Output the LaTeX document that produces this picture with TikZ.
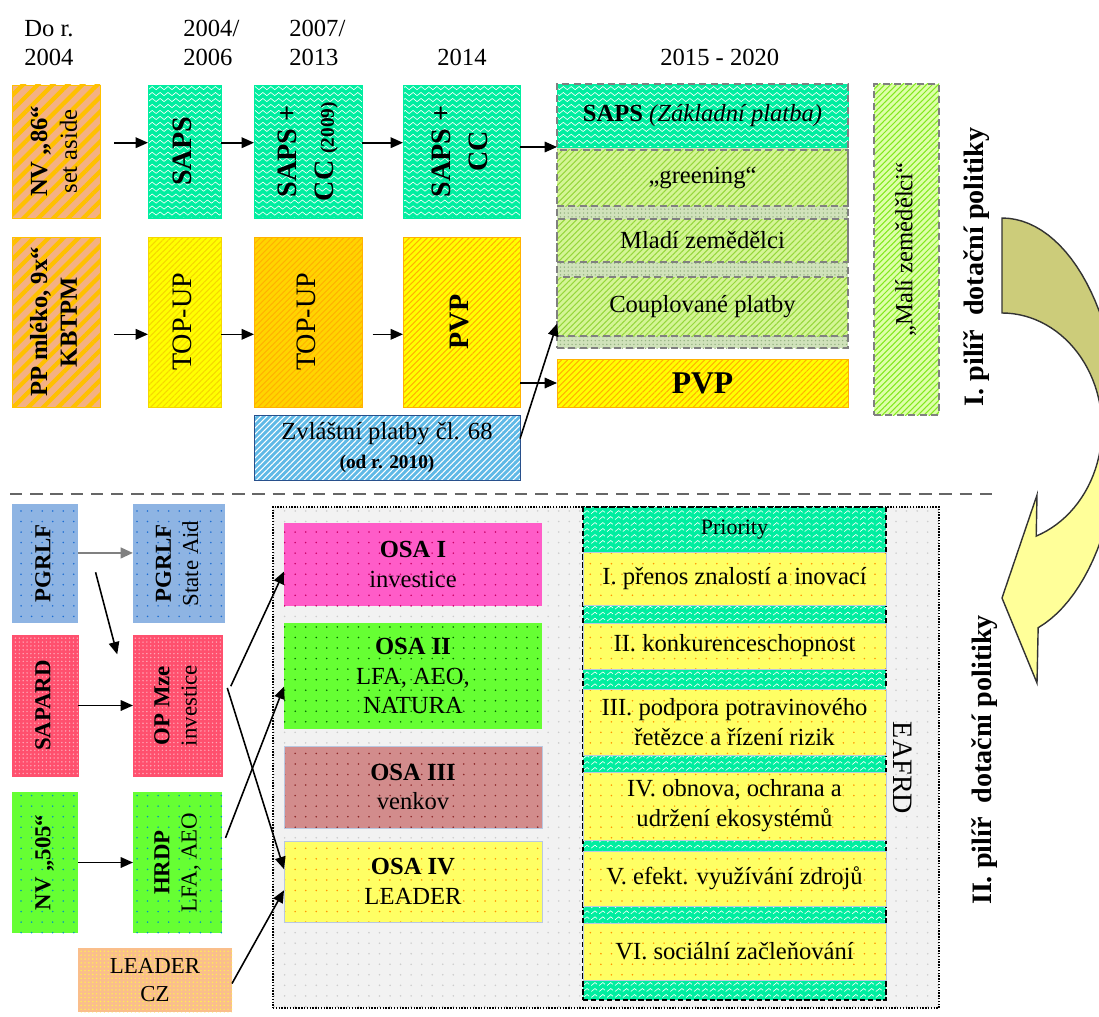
\documentclass[tikz,border=0pt]{standalone}
\usepackage{fontspec}
\setmainfont{Liberation Serif}
\usepackage{graphicx}
\usepackage{xcolor}
\usepackage{tikz}
\usetikzlibrary{arrows.meta,patterns.meta}

\definecolor{peach}{RGB}{244,177,131}
\definecolor{amber}{RGB}{255,192,0}
\definecolor{mint}{RGB}{0,238,160}
\definecolor{lemon}{RGB}{255,255,0}
\definecolor{lemonline}{RGB}{245,215,0}
\definecolor{goldbg}{RGB}{255,212,0}
\definecolor{goldline}{RGB}{255,178,0}
\definecolor{lime}{RGB}{212,245,150}
\definecolor{limeline}{RGB}{150,215,60}
\definecolor{limebright}{RGB}{222,255,170}
\definecolor{limebrightline}{RGB}{130,232,30}
\definecolor{sage}{RGB}{208,226,186}
\definecolor{sageline}{RGB}{150,180,130}
\definecolor{sky}{RGB}{95,185,230}
\definecolor{navyline}{RGB}{40,80,140}
\definecolor{steel}{RGB}{142,180,227}
\definecolor{steeldot}{RGB}{30,110,210}
\definecolor{rose}{RGB}{255,80,110}
\definecolor{rosedot}{RGB}{255,170,185}
\definecolor{grass}{RGB}{102,255,51}
\definecolor{grassdot}{RGB}{0,150,190}
\definecolor{apricot}{RGB}{250,190,140}
\definecolor{apricotdot}{RGB}{255,240,80}
\definecolor{orchid}{RGB}{255,92,200}
\definecolor{orchiddot}{RGB}{200,0,100}
\definecolor{clay}{RGB}{210,140,140}
\definecolor{claydot}{RGB}{140,40,40}
\definecolor{butter}{RGB}{255,255,100}
\definecolor{butterdot}{RGB}{255,150,0}
\definecolor{smoke}{RGB}{242,242,242}
\definecolor{smokedot}{RGB}{205,205,205}
\definecolor{bluegrey}{RGB}{185,200,225}
\definecolor{khaki}{RGB}{204,204,122}
\definecolor{cream}{RGB}{255,255,153}

\tikzdeclarepattern{
  name=waves,
  type=uncolored,
  bottom left={(-0.2pt,-0.2pt)},
  top right={(4.7pt,3.6pt)},
  tile size={(4.5pt,3.4pt)},
  code={
    \draw[line width=0.35pt] (0pt,1.7pt) sin (1.125pt,2.6pt) cos (2.25pt,1.7pt) sin (3.375pt,0.8pt) cos (4.5pt,1.7pt);
  }
}

\newcommand{\vtext}[1]{\rotatebox{90}{\begin{tabular}{@{}c@{}}#1\end{tabular}}}
\newcommand{\pillarrow}{plot[domain=-90:72,samples=50] ({1002+117*cos(\x)},{428+210*sin(\x)}) -- (1037,683) -- (1002,598) -- (1037,495) -- plot[domain=70:-90,samples=50] ({1002+100*cos(\x)},{428+115*sin(\x)}) -- cycle}

\tikzset{
  box/.style={inner sep=0pt, outer sep=0pt, align=center},
  area/.style n args={4}{at={({(#1+#3)/2},{(#2+#4)/2})}, minimum width={(#3-#1)*0.02cm}, minimum height={(#4-#2)*0.02cm}},
  big/.style={font=\fontsize{16}{21}\selectfont},
  mid/.style={font=\fontsize{14}{17}\selectfont},
  small/.style={font=\fontsize{13}{15.5}\selectfont},
  year/.style={anchor=base west, align=left, inner sep=0pt, font=\fontsize{14}{17}\selectfont},
  pillar/.style={rotate=90, inner sep=0pt, font=\fontsize{16}{20}\selectfont\bfseries},
  widebox/.style={preaction={fill=peach}, pattern={Lines[angle=45,distance=6pt,line width=2.4pt]}, pattern color=amber, draw=amber},
  wavebox/.style={preaction={fill=mint}, pattern=waves, pattern color=white, draw=mint},
  finebox/.style 2 args={preaction={fill=#1}, pattern={Lines[angle=45,distance=2.4pt,line width=0.6pt]}, pattern color=#2, draw=#2},
  dotbox/.style 2 args={preaction={fill=#1}, pattern={Dots[distance=6pt,radius=0.5pt]}, pattern color=#2},
  densebox/.style 2 args={preaction={fill=#1}, pattern={Dots[distance=2.2pt,radius=0.45pt]}, pattern color=#2},
  sub/.style={draw=gray, dash pattern=on 4pt off 2.5pt, line width=0.6pt},
  arr/.style={-{Triangle[length=7pt,width=6pt]}, line width=0.9pt},
}

\begin{document}
\begin{tikzpicture}[x=0.02cm, y=-0.02cm]
\useasboundingbox (0,0) rectangle (1099,1017);

% roky
\node[year] (y1) at (24,66) {Do r.\\2004};
\node[year] (y2) at (183,66) {2004/\\2006};
\node[year] (y3) at (289,66) {2007/\\2013};
\node[year] (y4) at (437,66) {2014};
\node[year] (y5) at (660,66) {2015 - 2020};

% I. pilir
\node[box, widebox, mid, area={12}{85}{100}{218}] (nv86) {\vtext{\textbf{NV „86“}\\set aside}};
\node[box, wavebox, big, area={148}{85}{221}{218}] (saps04) {\vtext{\textbf{SAPS}}};
\node[box, wavebox, big, area={254}{85}{362}{218}] (saps07) {\vtext{\textbf{SAPS +}\\\textbf{CC {\fontsize{11}{12}\selectfont(2009)}}}};
\node[box, wavebox, big, area={403}{85}{520}{218}] (saps14) {\vtext{\textbf{SAPS +}\\\textbf{CC}}};

\node[box, widebox, mid, area={12}{237}{100}{407}] (ppmleko) {\vtext{\textbf{PP mléko, 9x“}\\\textbf{KBTPM}}};
\node[box, finebox={lemon}{lemonline}, big, area={148}{237}{221}{407}] (topup04) {\vtext{TOP-UP}};
\node[box, finebox={goldbg}{goldline}, big, area={254}{237}{362}{407}] (topup07) {\vtext{TOP-UP}};
\node[box, finebox={lemon}{goldline}, big, area={403}{237}{520}{407}] (pvp14) {\vtext{\textbf{PVP}}};
\node[box, finebox={sky}{white}, draw=navyline, mid, area={254}{415}{520}{480}] (zvl) {Zvláštní platby čl. 68\\{\fontsize{11}{13}\selectfont\bfseries(od r. 2010)}};

% 2015 - 2020
\node[box, densebox={sage}{sageline}, area={557}{147}{848}{348}] (strips) {};
\node[box, wavebox, mid, area={557}{84}{848}{147}] (sapsnew) {\textbf{SAPS} \textit{(Základní platba)}};
\node[box, finebox={lime}{limeline}, sub, mid, area={557}{150}{848}{206}] (greening) {„greening“};
\node[box, finebox={lime}{limeline}, sub, mid, area={557}{219}{848}{262}] (mladi) {Mladí zemědělci};
\node[box, finebox={lime}{limeline}, sub, mid, area={557}{277}{848}{336}] (coupl) {Couplované platby};
\node[box, sub, area={557}{84}{848}{348}] (stack) {};
\node[box, finebox={lemon}{goldline}, font=\fontsize{18}{20}\selectfont, area={557}{359}{848}{407}] (pvpnew) {\textbf{PVP}};
\node[box, finebox={limebright}{limebrightline}, sub, mid, area={874}{84}{939}{415}] (male) {\vtext{„Malí zemědělci“}};

\node[pillar] (pil1) at (977,267) {I. pilíř~ dotační politiky};

% sipka mezi pilíři
\begin{scope}
  \clip (0,0) rectangle (1099,1017);
  \fill[cream] \pillarrow;
  \begin{scope}
    \clip (900,0) rectangle (1099,432);
    \fill[khaki] \pillarrow;
  \end{scope}
  \draw[line width=0.8pt, black!80] \pillarrow;
\end{scope}

\draw[arr] ([xshift=8pt,yshift=5pt]nv86.east) -- ([yshift=5pt]saps04.west);
\draw[arr] ([yshift=5pt]saps04.east) -- ([yshift=5pt]saps07.west);
\draw[arr] ([yshift=5pt]saps07.east) -- ([yshift=5pt]saps14.west);
\draw[arr] (saps14.east |- sapsnew.south west) -- (sapsnew.south west);
\draw[arr] ([xshift=8pt,yshift=-7pt]ppmleko.east) -- ([yshift=-7pt]topup04.west);
\draw[arr] ([yshift=-7pt]topup04.east) -- ([yshift=-7pt]topup07.west);
\draw[arr] ([xshift=6pt,yshift=-7pt]topup07.east) -- ([yshift=-7pt]pvp14.west);
\draw[arr] (pvp14.east |- pvpnew.west) -- (pvpnew.west);
\draw[arr] ([yshift=5pt]zvl.east) -- ([yshift=7pt]coupl.south west);

% deleni
\draw[gray!80!black, line width=1.1pt, dash pattern=on 7pt off 4.5pt] (10,494) -- (995,494);

% II. pilir
\node[box, dotbox={steel}{steeldot}, small, area={12}{504}{78}{623}] (pgrlf) {\vtext{\textbf{PGRLF}}};
\node[box, dotbox={steel}{steeldot}, small, area={133}{504}{225}{623}] (pgrlfsa) {\vtext{\textbf{PGRLF}\\State Aid}};
\node[box, densebox={rose}{rosedot}, draw=rose, small, area={12}{635}{78}{776}] (sapard) {\vtext{\textbf{SAPARD}}};
\node[box, densebox={rose}{rosedot}, draw=rose, small, area={133}{635}{222}{776}] (opmze) {\vtext{\textbf{OP Mze}\\investice}};
\node[box, dotbox={grass}{grassdot}, small, area={12}{792}{78}{933}] (nv505) {\vtext{\textbf{NV „505“}}};
\node[box, dotbox={grass}{grassdot}, small, area={133}{792}{222}{933}] (hrdp) {\vtext{\textbf{HRDP}\\LFA, AEO}};
\node[box, densebox={apricot}{apricotdot}, small, area={78}{948}{232}{1012}] (leadercz) {LEADER\\CZ};

\node[box, dotbox={smoke}{smokedot}, draw=black, line width=0.9pt, dash pattern=on 0.8pt off 0.8pt, area={273}{507}{939}{1008}] (eafrd) {};
\node[rotate=-90, inner sep=0pt, font=\fontsize{16}{18}\selectfont] (eafrdtext) at (903,768) {EAFRD};

\node[box, dotbox={orchid}{orchiddot}, mid, area={284}{523}{542}{606}] (osa1) {\textbf{OSA I}\\investice};
\node[box, dotbox={grass}{green!40!black}, mid, area={284}{623}{542}{729}] (osa2) {\textbf{OSA II}\\LFA, AEO,\\NATURA};
\node[box, dotbox={clay}{claydot}, draw=bluegrey, mid, area={284}{746}{542}{828}] (osa3) {\textbf{OSA III}\\venkov};
\node[box, dotbox={butter}{butterdot}, draw=bluegrey, mid, area={284}{841}{542}{922}] (osa4) {\textbf{OSA IV}\\LEADER};

\node[box, wavebox, draw=black, line width=1.1pt, dash pattern=on 3pt off 1.5pt, area={583}{507}{886}{1000}] (priocol) {};
\node[box, font=\fontsize{12.5}{14}\selectfont, area={583}{507}{886}{552}] (priohead) {Priority};
\node[box, dotbox={butter}{butterdot}, draw=bluegrey, mid, area={583}{552}{886}{605}] (p1) {I. přenos znalostí a inovací};
\node[box, dotbox={butter}{butterdot}, draw=bluegrey, mid, area={583}{623}{886}{669}] (p2) {II. konkurenceschopnost};
\node[box, dotbox={butter}{butterdot}, draw=bluegrey, mid, area={583}{689}{886}{755}] (p3) {III. podpora potravinového\\řetězce a řízení rizik};
\node[box, dotbox={butter}{butterdot}, draw=bluegrey, mid, area={583}{772}{886}{840}] (p4) {IV. obnova, ochrana a\\udržení ekosystémů};
\node[box, dotbox={butter}{butterdot}, draw=bluegrey, mid, area={583}{851}{886}{906}] (p5) {V. efekt. využívání zdrojů};
\node[box, dotbox={butter}{butterdot}, draw=bluegrey, mid, area={583}{923}{886}{980}] (p6) {VI. sociální začleňování};

\node[pillar] (pil2) at (985,760) {II. pilíř~ dotační politiky};

\draw[arr, gray, line width=1.4pt] ([yshift=6pt]pgrlf.east) -- ([yshift=6pt]pgrlfsa.west);
\draw[arr] ([xshift=10pt,yshift=-5pt]pgrlf.east) -- ([xshift=-9pt,yshift=-11pt]opmze.north west);
\draw[arr] (sapard.east) -- (opmze.west);
\draw[arr] (nv505.east) -- (hrdp.west);
\draw[arr] ([xshift=5pt,yshift=11pt]opmze.east) -- ([yshift=-4pt]osa1.west);
\draw[arr] ([xshift=3pt,yshift=10pt]opmze.east) -- ([yshift=7pt]osa4.west);
\draw[arr] ([xshift=2pt,yshift=14pt]hrdp.east) -- ([yshift=-6pt]osa2.west);
\draw[arr] ([yshift=-2pt]leadercz.east) -- ([yshift=-5pt]osa4.west);
\end{tikzpicture}
\end{document}
